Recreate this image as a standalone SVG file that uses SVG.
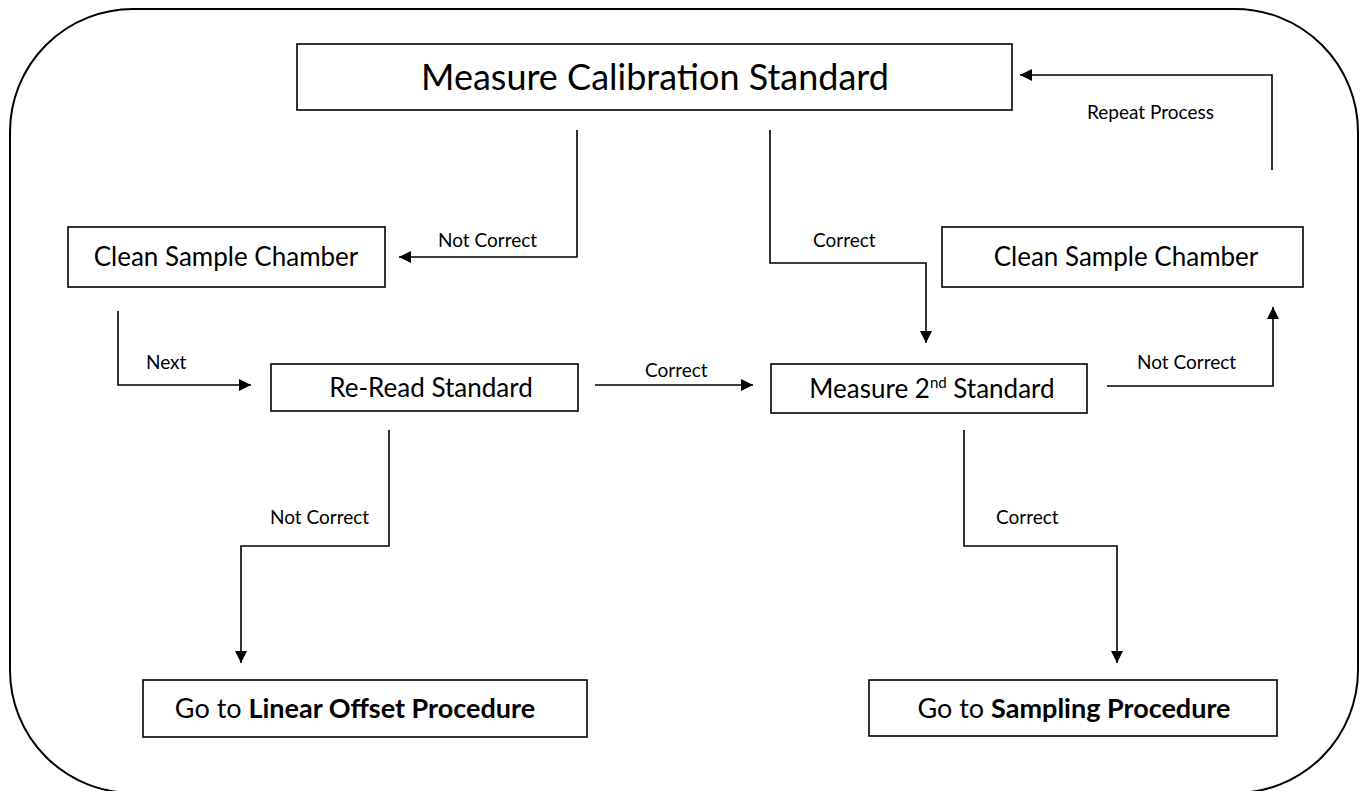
<svg xmlns="http://www.w3.org/2000/svg" width="1360" height="791" viewBox="0 0 1360 791">
  <defs>
    <marker id="arrow" viewBox="0 0 10 10" refX="10" refY="5" markerWidth="15" markerHeight="12" markerUnits="userSpaceOnUse" orient="auto">
      <path d="M0,0 L10,5 L0,10 Z" fill="#000"/>
    </marker>
    <style>
      .frame { fill: none; stroke: #000; stroke-width: 2; }
      .box { fill: #fff; stroke: #000; stroke-width: 1.6; }
      .label { font-family: Lato, "Open Sans", sans-serif; fill: #000; }
      .big { font-size: 36px; }
      .node { font-size: 26px; }
      .node-go { font-size: 27px; }
      .edge { font-size: 19px; }
      .conn { fill: none; stroke: #000; stroke-width: 1.6; }
      .arr { marker-end: url(#arrow); }
    </style>
  </defs>

  <rect width="1360" height="791" fill="#fff"/>
  <rect class="frame" x="10" y="9" width="1348" height="784" rx="123" ry="123"/>

  <!-- connectors -->
  <g id="connectors">
    <polyline class="conn arr" points="577,130 577,257 399,257"/>
    <polyline class="conn arr" points="770,130 770,263 926,263 926,343"/>
    <polyline class="conn arr" points="118,311 118,385 251,385"/>
    <polyline class="conn arr" points="595,385 753,385"/>
    <polyline class="conn arr" points="1107,386 1273,386 1273,307"/>
    <polyline class="conn arr" points="1272,170 1272,75 1020,75"/>
    <polyline class="conn arr" points="389,430 389,546 241,546 241,663"/>
    <polyline class="conn arr" points="964,430 964,546 1117,546 1117,663"/>

    <text class="label edge" x="438" y="247">Not Correct</text>
    <text class="label edge" x="813" y="247">Correct</text>
    <text class="label edge" x="146" y="369">Next</text>
    <text class="label edge" x="645" y="377">Correct</text>
    <text class="label edge" x="1137" y="369">Not Correct</text>
    <text class="label edge" x="1087" y="119">Repeat Process</text>
    <text class="label edge" x="270" y="524">Not Correct</text>
    <text class="label edge" x="996" y="524">Correct</text>
  </g>

  <g id="measure-calibration">
    <rect class="box" x="297" y="44" width="715" height="66"/>
    <text class="label big" x="655" y="90" text-anchor="middle">Measure Calibration Standard</text>
  </g>

  <g id="clean-left">
    <rect class="box" x="68" y="227" width="317" height="60"/>
    <text class="label node" x="226" y="266" text-anchor="middle">Clean Sample Chamber</text>
  </g>

  <g id="clean-right">
    <rect class="box" x="942" y="227" width="361" height="60"/>
    <text class="label node" x="1126" y="266" text-anchor="middle">Clean Sample Chamber</text>
  </g>

  <g id="re-read">
    <rect class="box" x="271" y="364" width="307" height="47"/>
    <text class="label node" x="431" y="397" text-anchor="middle">Re-Read Standard</text>
  </g>

  <g id="measure-second">
    <rect class="box" x="771" y="364" width="316" height="49"/>
    <text class="label node" x="932" y="398" text-anchor="middle">Measure 2<tspan font-size="15px" dy="-10">nd</tspan><tspan dy="10"> Standard</tspan></text>
  </g>

  <g id="linear-offset">
    <rect class="box" x="143" y="680" width="444" height="57"/>
    <text class="label node-go" x="355" y="718" text-anchor="middle">Go to <tspan font-weight="bold">Linear Offset Procedure</tspan></text>
  </g>

  <g id="sampling">
    <rect class="box" x="869" y="680" width="408" height="56"/>
    <text class="label node-go" x="1074" y="718" text-anchor="middle">Go to <tspan font-weight="bold">Sampling Procedure</tspan></text>
  </g>
</svg>
